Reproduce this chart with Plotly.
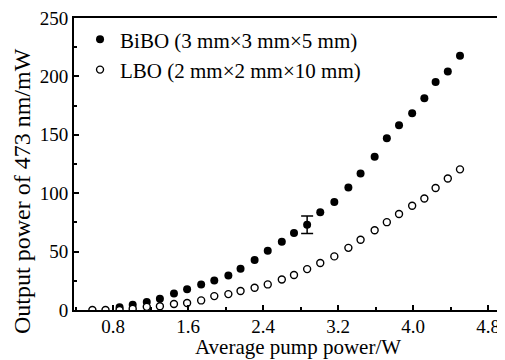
import plotly.graph_objects as go

# Average pump power (W)
pump_power = [0.58, 0.72, 0.87, 1.01, 1.16, 1.30, 1.45, 1.59, 1.74, 1.88, 2.03, 2.16,
              2.31, 2.45, 2.60, 2.73, 2.87, 3.01, 3.16, 3.31, 3.44, 3.59, 3.72, 3.85,
              3.99, 4.12, 4.24, 4.37, 4.50]
# BiBO output power (mW), starts at 0.87 W
bibo_power_x = pump_power[2:]
bibo_output = [2.3, 4.6, 6.9, 9.6, 14.1, 17.8, 21.9, 25.3, 29.5, 35.3, 42.9, 50.7,
               58.5, 66.0, 73.0, 83.6, 92.5, 104.9, 116.8, 131.3, 147.0, 158.1, 168.5,
               181.3, 195.3, 204.2, 217.6]
# one measured error bar (index into BiBO series) and its half-length (mW)
err_index = 14
err_value = 7.4
# LBO output power (mW)
lbo_output = [0.0, 0.0, 0.0, 1.0, 2.7, 3.2, 5.2, 6.0, 8.2, 11.9, 13.6, 16.3, 19.1,
              21.9, 26.1, 30.0, 35.0, 40.2, 45.9, 53.2, 60.1, 68.3, 75.2, 82.2, 89.2,
              95.5, 104.5, 112.6, 120.4]

x_ticks = [0.8, 1.6, 2.4, 3.2, 4.0, 4.8]
x_tick_labels = ["0.8", "1.6", "2.4", "3.2", "4.0", "4.8"]
y_ticks = [0, 50, 100, 150, 200, 250]

FONT = "Liberation Serif"

fig = go.Figure()
fig.add_trace(go.Scatter(
    x=bibo_power_x, y=bibo_output, mode="markers",
    name="BiBO (3 mm×3 mm×5 mm)",
    marker=dict(symbol="circle", size=8, color="black"),
))
fig.add_trace(go.Scatter(
    x=[bibo_power_x[err_index]], y=[bibo_output[err_index]], mode="markers",
    showlegend=False, hoverinfo="skip",
    marker=dict(size=8, color="black", opacity=0),
    error_y=dict(type="data", array=[err_value], visible=True, color="black",
                 thickness=1.5, width=6),
))
fig.add_trace(go.Scatter(
    x=pump_power, y=lbo_output, mode="markers",
    name="LBO (2 mm×2 mm×10 mm)",
    marker=dict(symbol="circle", size=7, color="white",
                line=dict(color="black", width=1.4)),
))

fig.update_layout(
    width=497, height=352,
    margin=dict(l=66, r=0, t=4, b=50),
    paper_bgcolor="white", plot_bgcolor="white",
    font=dict(family=FONT, size=19, color="black"),
    showlegend=True,
    legend=dict(x=0.014, y=0.996, xanchor="left", yanchor="top",
                bgcolor="rgba(0,0,0,0)", font=dict(size=21, family=FONT),
                itemwidth=30, tracegroupgap=0),
    xaxis=dict(range=[0.384, 4.98], tickvals=x_ticks, ticktext=x_tick_labels,
               ticks="inside", ticklen=5, tickwidth=2, tickcolor="black",
               showline=True, linewidth=2, linecolor="black", mirror=True,
               showgrid=False, zeroline=False,
               minor=dict(ticks="inside", ticklen=3, tickwidth=2, tickcolor="black",
                          dtick=0.4, tick0=0.0, showgrid=False),
               tickfont=dict(size=19, family=FONT), ticklabeloverflow="allow",
               ticklabelstandoff=-2),
    yaxis=dict(range=[0, 250], tickvals=y_ticks,
               ticks="inside", ticklen=5, tickwidth=2, tickcolor="black",
               showline=True, linewidth=2, linecolor="black", mirror=False,
               showgrid=False, zeroline=False,
               minor=dict(ticks="inside", ticklen=3, tickwidth=2, tickcolor="black",
                          dtick=25, tick0=0, showgrid=False),
               tickfont=dict(size=19, family=FONT), ticklabeloverflow="allow"),
    annotations=[
        dict(text="Average pump power/W", xref="paper", yref="paper",
             x=0.519, y=-0.127, xanchor="center", yanchor="middle",
             showarrow=False, font=dict(size=21, family=FONT)),
        dict(text="Output power of 473 nm/mW", xref="paper", yref="paper",
             x=-0.122, y=0.409, xanchor="center", yanchor="middle", textangle=-90,
             showarrow=False, font=dict(size=24, family=FONT)),
    ],
)

fig.write_html("out.html")
